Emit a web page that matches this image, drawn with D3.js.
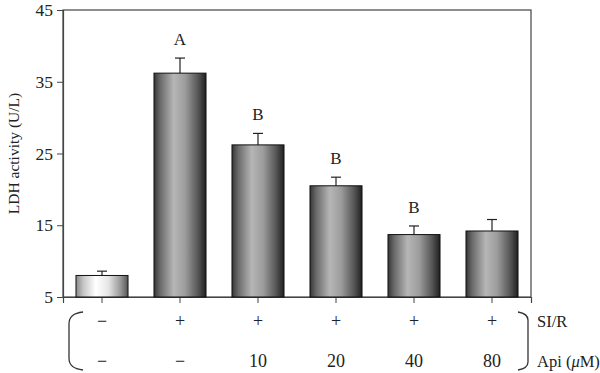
<!DOCTYPE html>
<html>
<head>
<meta charset="utf-8">
<script src="https://cdn.jsdelivr.net/npm/d3@7"></script>
<style>
  html, body { margin: 0; padding: 0; background: #fff; }
  svg { display: block; }
  text { font-family: "Liberation Serif", "DejaVu Serif", serif; fill: #222; }
</style>
</head>
<body>
<svg id="chart" width="600" height="373"></svg>
<script>
// ---- data ----
const groups = ["g1", "g2", "g3", "g4", "g5", "g6"];
const siR = ["−", "+", "+", "+", "+", "+"];
const api = ["−", "−", "10", "20", "40", "80"];
const means = [8.0, 36.2, 26.2, 20.5, 13.7, 14.2];
const errors = [0.6, 2.1, 1.6, 1.2, 1.2, 1.6];
const letters = ["", "A", "B", "B", "B", ""];
const yTicks = [5, 15, 25, 35, 45];
const yTitle = "LDH activity (U/L)";
const rowLabels = ["SI/R", "Api (μM)"];

// ---- layout ----
const svg = d3.select("#chart");
const mLeft = 63, mRight = 531, mTop = 10, mBottom = 297;

const x = d3.scaleBand().domain(groups).range([mLeft, mRight]).paddingInner(0.333).paddingOuter(0.1665);
const y = d3.scaleLinear().domain([5, 45]).range([mBottom, mTop]);

// gradients
const defs = svg.append("defs");
const gDark = defs.append("linearGradient").attr("id", "gradDark").attr("x1", "0").attr("x2", "1").attr("y1", "0").attr("y2", "0");
[[0, "#363636"], [0.12, "#6a6a6a"], [0.38, "#b6b6b6"], [0.6, "#9c9c9c"], [0.85, "#555"], [1, "#202020"]]
  .forEach(([o, c]) => gDark.append("stop").attr("offset", o).attr("stop-color", c));
const gLight = defs.append("linearGradient").attr("id", "gradLight").attr("x1", "0").attr("x2", "1").attr("y1", "0").attr("y2", "0");
[[0, "#8a8a8a"], [0.15, "#c8c8c8"], [0.38, "#ffffff"], [0.62, "#e6e6e6"], [0.85, "#9a9a9a"], [1, "#555"]]
  .forEach(([o, c]) => gLight.append("stop").attr("offset", o).attr("stop-color", c));

// frame
const axisColor = "#444";
svg.append("rect").attr("x", mLeft).attr("y", mTop).attr("width", mRight - mLeft).attr("height", mBottom - mTop)
  .attr("fill", "none").attr("stroke", axisColor).attr("stroke-width", 1.2);

// y axis
const yAxis = svg.append("g").attr("transform", `translate(${mLeft},0)`)
  .call(d3.axisLeft(y).tickValues(yTicks).tickSize(6).tickPadding(4));
yAxis.select(".domain").attr("stroke", axisColor).attr("stroke-width", 1.2);
yAxis.selectAll(".tick line").attr("stroke", axisColor);
yAxis.selectAll("text").attr("font-size", 17.5).attr("font-family", "Liberation Serif").attr("fill", "#222");

// x axis ticks (no labels)
const xAxis = svg.append("g").attr("transform", `translate(0,${mBottom})`)
  .call(d3.axisBottom(x).tickSize(6).tickFormat(""));
xAxis.select(".domain").attr("stroke", axisColor).attr("stroke-width", 1.2);
xAxis.selectAll(".tick line").attr("stroke", axisColor);

// error bars
const err = svg.append("g");
groups.forEach((g, i) => {
  const cx = x(g) + x.bandwidth() / 2;
  err.append("line").attr("x1", cx).attr("x2", cx).attr("y1", y(means[i])).attr("y2", y(means[i] + errors[i]))
    .attr("stroke", "#222").attr("stroke-width", 1.2);
  err.append("line").attr("x1", cx - 5).attr("x2", cx + 5).attr("y1", y(means[i] + errors[i])).attr("y2", y(means[i] + errors[i]))
    .attr("stroke", "#222").attr("stroke-width", 1.2);
});

// bars
svg.append("g").selectAll("rect").data(groups).join("rect")
  .attr("x", d => x(d)).attr("width", x.bandwidth())
  .attr("y", (d, i) => y(means[i])).attr("height", (d, i) => y(5) - y(means[i]))
  .attr("fill", (d, i) => i === 0 ? "url(#gradLight)" : "url(#gradDark)")
  .attr("stroke", "#111").attr("stroke-width", 1);

// letters
svg.append("g").selectAll("text").data(groups).join("text")
  .attr("x", d => x(d) + x.bandwidth() / 2)
  .attr("y", (d, i) => y(means[i] + errors[i]) - 13)
  .attr("text-anchor", "middle").attr("font-size", 17)
  .text((d, i) => letters[i]);

// y title
svg.append("text").attr("transform", `translate(19,${(mTop + mBottom) / 2}) rotate(-90)`)
  .attr("text-anchor", "middle").attr("font-size", 15.5).text(yTitle);

// rows below
const row1 = 327, row2 = 367;
svg.append("g").selectAll("text").data(groups).join("text")
  .attr("x", d => x(d) + x.bandwidth() / 2).attr("y", row1)
  .attr("text-anchor", "middle").attr("font-size", 18).text((d, i) => siR[i]);
svg.append("g").selectAll("text").data(groups).join("text")
  .attr("x", d => x(d) + x.bandwidth() / 2).attr("y", row2)
  .attr("text-anchor", "middle").attr("font-size", 18).text((d, i) => api[i]);

// brackets
svg.append("path")
  .attr("d", "M83,312 C74,313 69,316 69,324 L69,358 C69,366 74,369 83,370")
  .attr("fill", "none").attr("stroke", "#333").attr("stroke-width", 1.3);
svg.append("path")
  .attr("d", "M518,312 C524,313 528,315 528,320 L528,362 C528,367 524,369 518,370")
  .attr("fill", "none").attr("stroke", "#333").attr("stroke-width", 1.3);

svg.append("text").attr("x", 537).attr("y", row1).attr("font-size", 16.5).text(rowLabels[0]);
const apiLabel = svg.append("text").attr("x", 537).attr("y", row2).attr("font-size", 16.5);
apiLabel.append("tspan").text("Api (");
apiLabel.append("tspan").attr("font-style", "italic").text("μ");
apiLabel.append("tspan").text("M)");
</script>
</body>
</html>
